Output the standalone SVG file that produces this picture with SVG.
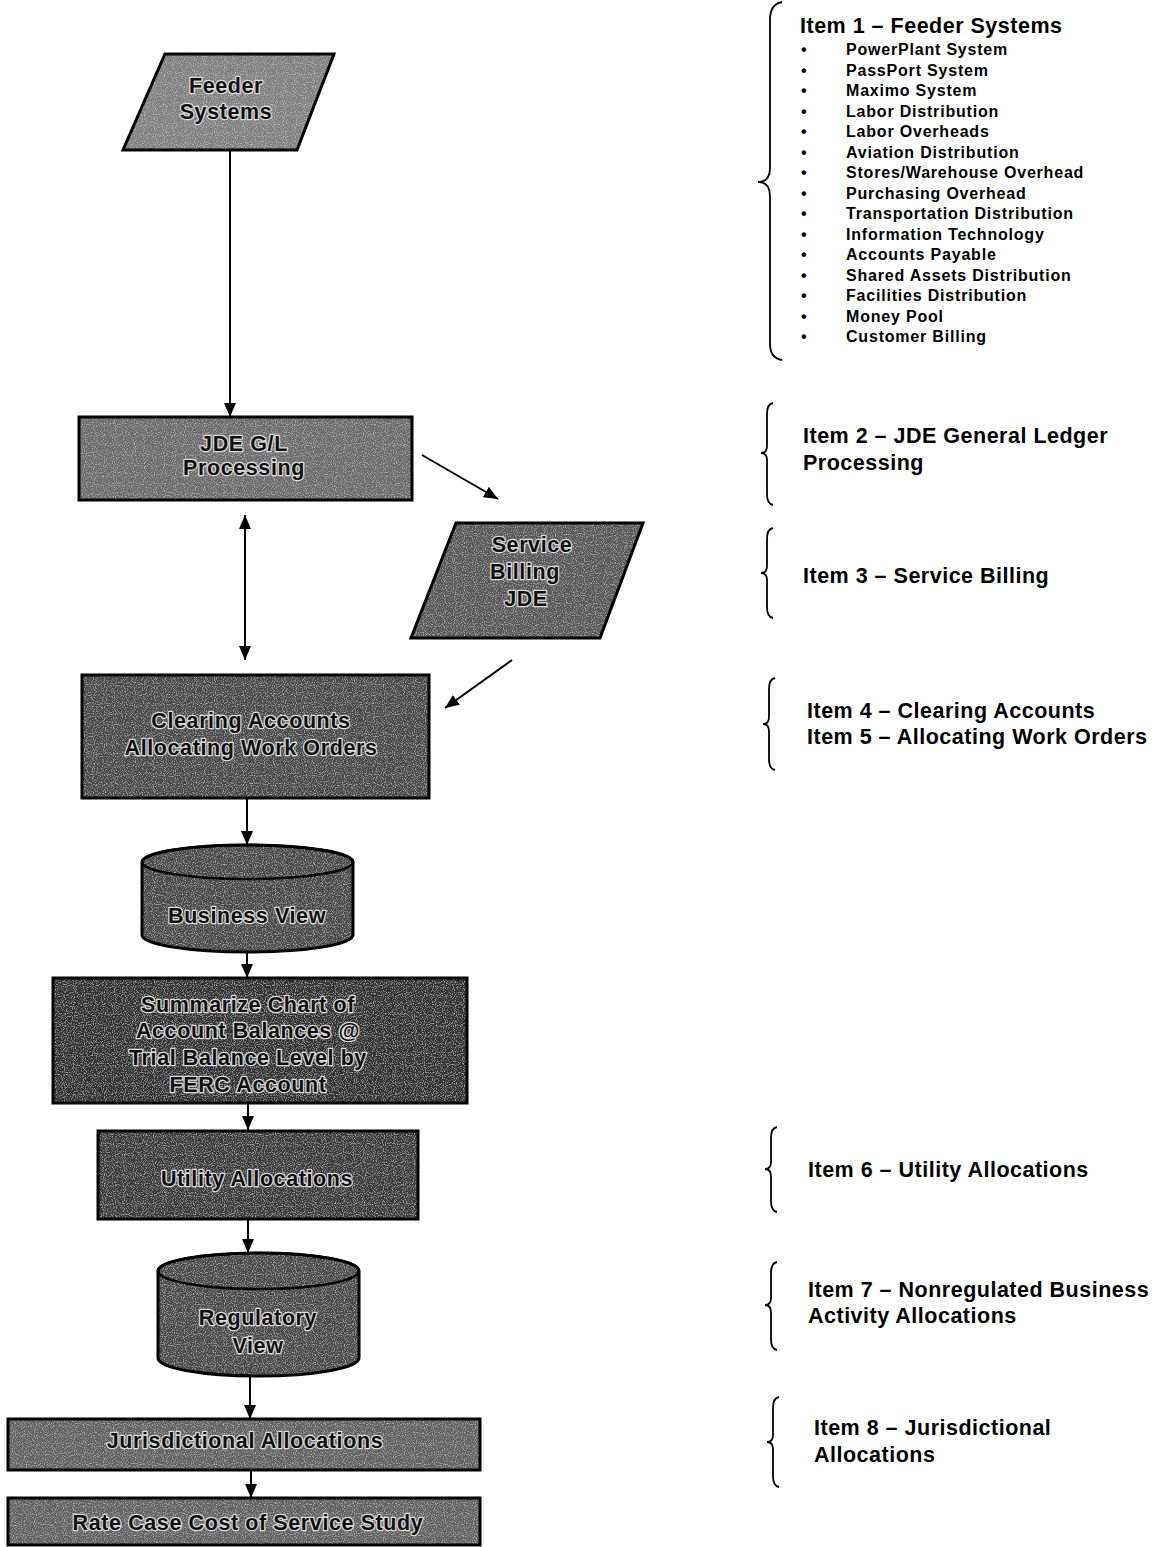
<svg xmlns="http://www.w3.org/2000/svg" width="1157" height="1547" viewBox="0 0 1157 1547">
<style>
.fg{stroke:none;filter:url(#grain)}
.ed{fill:none;stroke:#000;stroke-width:3}
.nt{font-family:"Liberation Sans",Arial,sans-serif;font-weight:bold;font-size:21.5px;letter-spacing:0.6px;fill:#111;stroke:#dcdcdc;stroke-width:2.5px;paint-order:stroke;stroke-linejoin:round;text-anchor:middle}
.it{font-family:"Liberation Sans",Arial,sans-serif;font-weight:bold;font-size:21.5px;letter-spacing:0.5px;fill:#000}
.li{font-family:"Liberation Sans",Arial,sans-serif;font-weight:bold;font-size:16px;letter-spacing:0.8px;fill:#000}
.br{fill:none;stroke:#000;stroke-width:1.8}
.cn{stroke:#000;stroke-width:2;fill:none}
</style>
<defs>
<filter id="grain" x="0" y="0" width="1" height="1">
<feTurbulence type="fractalNoise" baseFrequency="0.9" numOctaves="1" seed="3" result="n"/>
<feColorMatrix in="n" type="matrix" values="0 0 0 0 1 0 0 0 0 1 0 0 0 0 1 0 0 0 1.4 -0.7" result="w"/>
<feComposite in="w" in2="SourceGraphic" operator="in" result="wm"/>
<feMerge><feMergeNode in="SourceGraphic"/><feMergeNode in="wm"/></feMerge>
</filter>
<marker id="ah" viewBox="0 0 14 12" refX="14" refY="6" markerWidth="14" markerHeight="12" markerUnits="userSpaceOnUse" orient="auto-start-reverse">
<path d="M0,0 L14,6 L0,12 Z" fill="#000"/>
</marker>
</defs>
<rect width="1157" height="1547" fill="#fff"/>

<g id="connectors">
<line class="cn" x1="230" y1="151" x2="230" y2="417" marker-end="url(#ah)"/>
<line class="cn" x1="422" y1="455" x2="498" y2="499" marker-end="url(#ah)"/>
<line class="cn" x1="245" y1="515" x2="245" y2="660" marker-start="url(#ah)" marker-end="url(#ah)"/>
<line class="cn" x1="512" y1="660" x2="445" y2="708" marker-end="url(#ah)"/>
<line class="cn" x1="247" y1="798" x2="247" y2="845" marker-end="url(#ah)"/>
<line class="cn" x1="247" y1="953" x2="247" y2="978" marker-end="url(#ah)"/>
<line class="cn" x1="248" y1="1104" x2="248" y2="1130" marker-end="url(#ah)"/>
<line class="cn" x1="248" y1="1219" x2="248" y2="1253" marker-end="url(#ah)"/>
<line class="cn" x1="250" y1="1377" x2="250" y2="1419" marker-end="url(#ah)"/>
<line class="cn" x1="251" y1="1471" x2="251" y2="1498" marker-end="url(#ah)"/>
</g>

<g id="feeder-systems">
<path class="fg" d="M165,54 L334,54 L297,150 L123,150 Z" fill="#808080"/>
<path class="ed" d="M165,54 L334,54 L297,150 L123,150 Z"/>
<text class="nt" x="226" y="93">Feeder</text>
<text class="nt" x="226" y="119">Systems</text>
</g>

<g id="jde-gl">
<rect class="fg" x="79" y="417" width="333" height="83" fill="#6c6c6c"/>
<rect class="ed" x="79" y="417" width="333" height="83"/>
<text class="nt" x="244" y="451">JDE G/L</text>
<text class="nt" x="244" y="475">Processing</text>
</g>

<g id="service-billing">
<path class="fg" d="M456,523 L643,523 L600,638 L411,638 Z" fill="#585858"/>
<path class="ed" d="M456,523 L643,523 L600,638 L411,638 Z"/>
<text class="nt" x="532" y="552">Service</text>
<text class="nt" x="525" y="579">Billing</text>
<text class="nt" x="526" y="606">JDE</text>
</g>

<g id="clearing-accounts">
<rect class="fg" x="82" y="675" width="347" height="123" fill="#4a4a4a"/>
<rect class="ed" x="82" y="675" width="347" height="123"/>
<text class="nt" x="251" y="728">Clearing Accounts</text>
<text class="nt" x="251" y="755">Allocating Work Orders</text>
</g>

<g id="business-view">
<path class="fg" d="M142,862 A105.5,17 0 0 1 353,862 L353,935 A105.5,17 0 0 1 142,935 Z" fill="#4a4a4a"/>
<path class="ed" d="M142,862 A105.5,17 0 0 1 353,862 L353,935 A105.5,17 0 0 1 142,935 Z"/>
<ellipse cx="247.5" cy="862" rx="105.5" ry="17" fill="none" stroke="#000" stroke-width="2.5"/>
<text class="nt" x="247" y="923">Business View</text>
</g>

<g id="summarize-chart">
<rect class="fg" x="53" y="978" width="414" height="125" fill="#303030"/>
<rect class="ed" x="53" y="978" width="414" height="125"/>
<text class="nt" x="248" y="1012">Summarize Chart of</text>
<text class="nt" x="248" y="1038">Account Balances @</text>
<text class="nt" x="248" y="1065">Trial Balance Level by</text>
<text class="nt" x="248" y="1092">FERC Account</text>
</g>

<g id="utility-allocations">
<rect class="fg" x="98" y="1131" width="320" height="88" fill="#3a3a3a"/>
<rect class="ed" x="98" y="1131" width="320" height="88"/>
<text class="nt" x="257" y="1186">Utility Allocations</text>
</g>

<g id="regulatory-view">
<path class="fg" d="M158,1271 A100.5,18 0 0 1 359,1271 L359,1358 A100.5,18 0 0 1 158,1358 Z" fill="#484848"/>
<path class="ed" d="M158,1271 A100.5,18 0 0 1 359,1271 L359,1358 A100.5,18 0 0 1 158,1358 Z"/>
<ellipse cx="258.5" cy="1271" rx="100.5" ry="18" fill="none" stroke="#000" stroke-width="2.5"/>
<text class="nt" x="258" y="1325">Regulatory</text>
<text class="nt" x="258" y="1353">View</text>
</g>

<g id="jurisdictional-allocations">
<rect class="fg" x="8" y="1419" width="472" height="51" fill="#626262"/>
<rect class="ed" x="8" y="1419" width="472" height="51"/>
<text class="nt" x="245" y="1448">Jurisdictional Allocations</text>
</g>

<g id="rate-case">
<rect class="fg" x="8" y="1498" width="472" height="47" fill="#626262"/>
<rect class="ed" x="8" y="1498" width="472" height="47"/>
<text class="nt" x="248" y="1530">Rate Case Cost of Service Study</text>
</g>

<g id="item-1">
<path class="br" d="M782,2 Q770,4 770,20 L770,168 Q770,182 758,182 Q770,182 770,196 L770,344 Q770,358 782,360"/>
<text class="it" x="800" y="33">Item 1 – Feeder Systems</text>
<g class="li">
<text x="801" y="55">•</text><text x="846" y="55">PowerPlant System</text>
<text x="801" y="75.5">•</text><text x="846" y="75.5">PassPort System</text>
<text x="801" y="96">•</text><text x="846" y="96">Maximo System</text>
<text x="801" y="116.5">•</text><text x="846" y="116.5">Labor Distribution</text>
<text x="801" y="137">•</text><text x="846" y="137">Labor Overheads</text>
<text x="801" y="157.5">•</text><text x="846" y="157.5">Aviation Distribution</text>
<text x="801" y="178">•</text><text x="846" y="178">Stores/Warehouse Overhead</text>
<text x="801" y="198.5">•</text><text x="846" y="198.5">Purchasing Overhead</text>
<text x="801" y="219">•</text><text x="846" y="219">Transportation Distribution</text>
<text x="801" y="239.5">•</text><text x="846" y="239.5">Information Technology</text>
<text x="801" y="260">•</text><text x="846" y="260">Accounts Payable</text>
<text x="801" y="280.5">•</text><text x="846" y="280.5">Shared Assets Distribution</text>
<text x="801" y="301">•</text><text x="846" y="301">Facilities Distribution</text>
<text x="801" y="321.5">•</text><text x="846" y="321.5">Money Pool</text>
<text x="801" y="342">•</text><text x="846" y="342">Customer Billing</text>
</g>
</g>

<g id="item-2">
<path class="br" d="M773,403 Q767,404 767,414 L767,446 Q767,453 761,453 Q767,453 767,460 L767,494 Q767,504 773,505"/>
<text class="it" x="803" y="443">Item 2 – JDE General Ledger</text>
<text class="it" x="803" y="470">Processing</text>
</g>

<g id="item-3">
<path class="br" d="M773,528 Q767,529 767,539 L767,566 Q767,573 761,573 Q767,573 767,580 L767,607 Q767,617 773,618"/>
<text class="it" x="803" y="583">Item 3 – Service Billing</text>
</g>

<g id="item-4-5">
<path class="br" d="M775,678 Q769,679 769,689 L769,717 Q769,724 763,724 Q769,724 769,731 L769,759 Q769,769 775,770"/>
<text class="it" x="807" y="718">Item 4 – Clearing Accounts</text>
<text class="it" x="807" y="744">Item 5 – Allocating Work Orders</text>
</g>

<g id="item-6">
<path class="br" d="M777,1127 Q771,1128 771,1138 L771,1162 Q771,1169 765,1169 Q771,1169 771,1176 L771,1201 Q771,1211 777,1212"/>
<text class="it" x="808" y="1177">Item 6 – Utility Allocations</text>
</g>

<g id="item-7">
<path class="br" d="M777,1262 Q771,1263 771,1273 L771,1298 Q771,1305 765,1305 Q771,1305 771,1312 L771,1339 Q771,1349 777,1350"/>
<text class="it" x="808" y="1297">Item 7 – Nonregulated Business</text>
<text class="it" x="808" y="1323">Activity Allocations</text>
</g>

<g id="item-8">
<path class="br" d="M779,1397 Q773,1398 773,1408 L773,1435 Q773,1442 767,1442 Q773,1442 773,1449 L773,1476 Q773,1486 779,1487"/>
<text class="it" x="814" y="1435">Item 8 – Jurisdictional</text>
<text class="it" x="814" y="1462">Allocations</text>
</g>
</svg>
